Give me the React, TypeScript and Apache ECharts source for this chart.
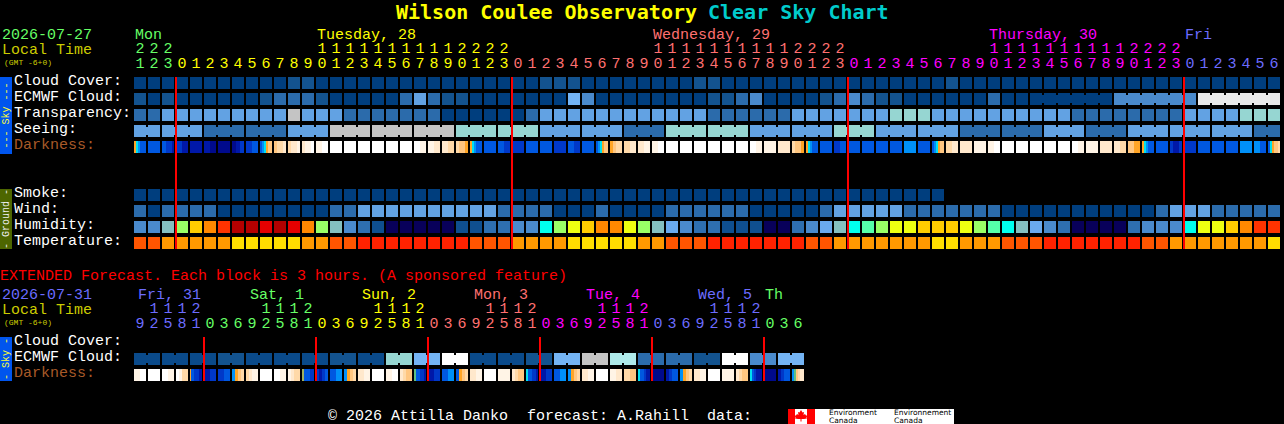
import React, { useEffect, useRef } from "react";
import * as echarts from "echarts";

// ---- palettes (level -> colour)
const skyColors = ["#003e7e", "#13538f", "#2b6bab", "#4a8acc", "#62a2e3", "#74b4f4", "#96d6d2", "#aeeaea", "#c4c4c4", "#e9e9e9", "#ffffff", "#0a4a8a"];
const humidityColors = ["#08005a", "#0f4f8f", "#2e6fb0", "#4a8acc", "#6aaaee", "#84c0c0", "#00ffee", "#55ffaa", "#99ff66", "#eeff11", "#ffcc00", "#ff8800", "#ff3300", "#e60000", "#b30000"];
const tempColors = ["#ff2200", "#ff5500", "#ff9900", "#ffdd00"];
const darkColors = ["#ffffff", "#fff4e6", "#ffe8cc", "#ffd9a8", "#ffc680", "#ffa526", "#00e0f0", "#0090f8", "#0058e0", "#0038c8", "#0018a8", "#000a8c", "#a0b060", "#60c080"];

// ---- main forecast, 82 hourly columns
const cloudCover = [0,0,0,0,0,0,0,0,0,0,0,1,1,0,0,0,0,0,0,0,0,0,0,0,0,0,0,0,0,1,1,1,0,0,0,0,0,0,0,0,1,1,0,0,0,0,0,0,0,0,0,0,0,0,0,0,0,0,1,0,0,0,0,0,0,0,0,0,0,0,0,0,0,0,0,0,0,0,0,0,0,0];
const ecmwfCloud = [1,0,1,0,0,0,0,0,0,1,2,2,2,1,0,0,0,0,0,2,4,2,1,1,0,0,0,0,0,0,0,5,3,0,0,0,0,0,0,0,0,1,1,2,3,0,0,0,0,1,2,3,2,1,1,0,0,0,0,0,0,2,0,0,0,0,0,0,0,0,3,3,3,3,3,3,9,9,9,9,9,9];
const transparency = [2,2,4,4,4,4,4,4,4,4,4,8,4,4,4,2,2,2,2,2,2,2,0,0,0,0,0,0,2,4,4,4,4,4,4,4,4,4,4,4,4,2,2,2,2,2,2,4,4,4,4,4,4,4,6,6,6,4,4,4,4,4,4,4,4,4,4,2,2,2,2,2,2,2,2,4,4,4,4,6,6,6];
const seeing = [4,4,4,4,4,2,2,2,2,2,2,4,4,4,8,8,8,8,8,8,8,8,8,6,6,6,6,6,6,4,4,4,4,4,4,2,2,2,6,6,6,6,6,6,4,4,4,4,4,4,6,6,6,4,4,4,4,4,4,2,2,2,2,2,2,4,4,4,2,2,2,4,4,4,4,4,4,4,4,4,2,2];
const darkness = [
  [5,6,7,8,8,8],[8],[8,8,9,9,9,10],[9,10],[10],[10,11],[11],[11,10,9],[9,8],[8,7,6,5,4,4],[4,3,3,2],[3,2,2,1],[2,1,1,0],[1,0],
  [0],[0],[0],[0],[0],[0],[0,1],[1,2],[2,3],[3,4,4,5],[5,6,7,8,8,8],[8],[8,9],[9],[8],[8],[9],[8,9],[8],[8,7,6,5,4,4],[5,4,3,3],[3,2],[2,1],[1,0],
  [0],[0],[0],[0],[0],[0],[0,1],[1],[2],[3,4,4,5],[5,6,7,8,8,8],[8],[9,8],[8],
  [8],[8],[8],[7],[8],[8,7,6,5,4,4],[3,2],[2],[1],[1,0],[0],[0],[0],[0],[0],[0,1],[1],[2],[2,3],[4,5],[5,6,7,8,8,8],[8],[9,10,10,9],[9],[8],[8],[8],[7],[7,8],[8,6,5,4,4,3],
];
const smoke = [0,0,0,0,0,0,0,0,0,0,0,0,0,0,0,0,0,0,0,0,0,0,0,0,0,0,0,0,0,0,0,0,0,0,0,0,0,0,0,0,0,0,0,0,0,0,0,0,0,0,0,0,0,0,0,0,0,0];
const wind = [2,0,2,2,2,2,0,0,0,0,0,0,0,0,2,2,4,4,4,4,4,4,4,4,4,4,2,2,2,2,0,0,0,2,0,0,0,0,2,2,2,2,2,2,0,0,0,0,0,2,4,4,4,4,4,2,2,2,2,2,2,2,0,0,0,0,0,0,0,0,0,0,0,2,4,4,4,2,2,2,2,2];
const humidity = [3,3,5,8,10,11,12,14,14,13,14,13,11,8,5,3,2,1,0,0,0,0,0,1,1,2,2,3,3,6,8,9,10,11,11,9,8,5,4,3,2,2,1,1,1,0,0,2,3,4,5,6,7,8,9,9,10,10,10,9,8,7,6,5,4,3,2,0,0,0,0,2,3,3,3,6,9,9,10,11,12,12];
const temperature = [1,1,2,2,2,2,2,3,3,3,3,3,2,2,1,1,0,0,0,0,0,0,0,0,1,1,1,2,2,2,2,3,3,3,3,3,2,2,1,1,1,0,0,0,0,0,0,0,1,1,2,2,2,2,2,2,2,3,3,2,2,2,1,1,1,0,0,0,0,0,0,0,1,1,2,2,2,2,2,2,2,3];

// ---- main axis ticks
const hours = [21,22,23,0,1,2,3,4,5,6,7,8,9,10,11,12,13,14,15,16,17,18,19,20,21,22,23,0,1,2,3,4,5,6,7,8,9,10,11,12,13,14,15,16,17,18,19,20,21,22,23,0,1,2,3,4,5,6,7,8,9,10,11,12,13,14,15,16,17,18,19,20,21,22,23,0,1,2,3,4,5,6];
const hourGroups = [3, 24, 24, 24, 7];
const dayColors = ["#66ff66", "#ffff00", "#ff7070", "#ff00ff", "#6c6cff"];
const dayLabels = ["Mon", "Tuesday, 28", "Wednesday, 29", "Thursday, 30", "Fri"];
const dayColumns = [0, 13, 37, 61, 75];
const midnights = [3, 27, 51, 75];
const skyRows = ["Cloud Cover:", "ECMWF Cloud:", "Transparency:", "Seeing:", "Darkness:"];
const groundRows = ["Smoke:", "Wind:", "Humidity:", "Temperature:"];

// ---- extended forecast, 48 three-hour columns
const extCloud = [11,11,11,11,11,11,1,1,11,11,11,11,11,11,1,1,11,11,6,6,5,5,10,10,11,11,11,11,1,1,5,5,8,8,7,7,2,2,2,2,1,1,10,10,3,3,5,5];
const extDarkness = [
  [1,0],[0],[0,1],[0,1,3,3],[5,8,8,8,9,9,9,9,9,10,10,10],[10,9],[9,8],[7,5,4,3],[3,2,1,1],[0],[0,1],[1,2,3,3],
  [12,8,8,8,9,9],[9,10,9,8],[8,7],[7,5,4,3],[2,1],[0],[1,0],[2,3,4,4],[13,8,8,9,9,10],[10,9],[8,7],[8,5,4,3],
  [2,1],[0],[1],[2,3,4,4],[6,8,8,9,9,10],[10,9],[8,7],[7,5,4,3],[2,1],[0],[1,2],[3,4],[6,8,8,9,10,10],[11],[10,9,8,8],[7,5,4,3],
  [2,1],[0],[1],[2,3,4,4],[6,8,9,10,10,10],[11],[10,9,8,8],[7,13,4,3,2,2],
];
const extHours = [9,12,15,18,21,0,3,6,9,12,15,18,21,0,3,6,9,12,15,18,21,0,3,6,9,12,15,18,21,0,3,6,9,12,15,18,21,0,3,6,9,12,15,18,21,0,3,6];
const extHourGroups = [5, 8, 8, 8, 8, 8, 3];
const extDayColors = ["#6c6cff", "#66ff66", "#ffff00", "#ff7070", "#ff00ff", "#6c6cff", "#66ff66"];
const extDayLabels = ["Fri, 31", "Sat, 1", "Sun, 2", "Mon, 3", "Tue, 4", "Wed, 5", "Th"];
const extDayColumns = [0, 8, 16, 24, 32, 40, 45];
const extMidnights = [5, 13, 21, 29, 37, 45];
const extRows = ["Cloud Cover:", "ECMWF Cloud:", "Darkness:"];

const MONO = '"Liberation Mono", monospace';
const TITLE_MONO = '"DejaVu Sans Mono", monospace';
const FONT = `15px ${MONO}`;
const LOGO_FONT = `7.5px "DejaVu Sans"`;

function colorsOf(groups: number[], palette: string[]) {
  const out: string[] = [];
  groups.forEach((n, g) => { for (let i = 0; i < n; i++) out.push(palette[g]); });
  return out;
}

function cellSeries(
  grid: number, row: number, values: number[], palette: string[],
  joined: (i: number) => boolean = () => false,
) {
  return {
    type: "custom", xAxisIndex: grid * 2, yAxisIndex: grid, silent: true,
    data: values.map((v, i) => [i, row, v]),
    renderItem: (_p: any, api: any) => {
      const i = api.value(0);
      const [cx, cy] = api.coord([i, row]);
      const fill = palette[api.value(2)];
      const children: any[] = [{ type: "rect", shape: { x: cx - 6, y: cy - 6, width: 12, height: 12 }, style: { fill } }];
      if (joined(i) && values[i + 1] === values[i]) {
        children.push({ type: "rect", shape: { x: cx + 6, y: cy - 4, width: 2, height: 8 }, style: { fill } });
      }
      return { type: "group", children };
    },
  };
}

function stripeSeries(grid: number, row: number, cells: number[][]) {
  return {
    type: "custom", xAxisIndex: grid * 2, yAxisIndex: grid, silent: true,
    data: cells.map((_c, i) => [i, row]),
    renderItem: (_p: any, api: any) => {
      const i = api.value(0);
      const [cx, cy] = api.coord([i, row]);
      const st = cells[i];
      const w = 12 / st.length;
      return {
        type: "group",
        children: st.map((lvl, k) => ({
          type: "rect",
          shape: { x: cx - 6 + Math.round(k * w), y: cy - 6, width: Math.round((k + 1) * w) - Math.round(k * w), height: 12 },
          style: { fill: darkColors[lvl] },
        })),
      };
    },
  };
}

function redLines(grid: number, cols: number[]) {
  return {
    type: "custom", xAxisIndex: grid * 2, yAxisIndex: grid, silent: true, z: 10,
    data: cols.map((c) => [c, 1]),
    renderItem: (_p: any, api: any) => {
      const c = api.value(0);
      const band = api.size([1, 0])[0];
      const top = api.coord([c, 1]);
      const bottom = api.coord([c, 0]);
      return { type: "rect", shape: { x: top[0] - band / 2, y: top[1], width: 2, height: bottom[1] - top[1] }, style: { fill: "#ff0000" } };
    },
  };
}

function hourAxes(grid: number, hrs: number[], colors: string[]) {
  const base = {
    type: "category", gridIndex: grid, position: "top",
    axisLine: { show: false }, axisTick: { show: false }, splitLine: { show: false },
  };
  const label = { interval: 0, hideOverlap: false, fontFamily: MONO, fontSize: 15, color: (_v: any, i: number) => colors[i], margin: 3 };
  return [
    { ...base, data: hrs.map((h) => String(h % 10)), axisLabel: label },
    { ...base, offset: 15, data: hrs.map((h) => (h >= 10 ? String(Math.floor(h / 10)) : "")), axisLabel: label },
  ];
}

function blankXAxes(grid: number, n: number) {
  const base = { type: "category", gridIndex: grid, data: Array.from({ length: n }, (_, i) => String(i)), axisLine: { show: false }, axisTick: { show: false }, axisLabel: { show: false }, splitLine: { show: false } };
  return [base, { ...base }];
}

function rowAxis(grid: number, rows: string[]) {
  return {
    type: "category", gridIndex: grid, inverse: true, data: rows,
    axisLine: { show: false }, axisTick: { show: false }, splitLine: { show: false },
    axisLabel: {
      interval: 0, align: "left", verticalAlign: "bottom", lineHeight: 4, margin: 119, fontFamily: MONO, fontSize: 15,
      color: (v: string) => (v === "Darkness:" ? "#a85a28" : "#ffffff"),
    },
  };
}

function txt(text: string, x: number, y: number, fill: string, font = FONT) {
  return { type: "text", x, y, silent: true, style: { text, fill, font, textVerticalAlign: "middle" } };
}

function sideBar(y: number, h: number, fill: string, label: string, color: string) {
  return [
    { type: "rect", silent: true, shape: { x: 0, y, width: 12, height: h }, style: { fill } },
    { type: "text", silent: true, x: 6, y: y + h / 2, rotation: Math.PI / 2, style: { text: label, fill: color, font: `10px ${MONO}`, textAlign: "center", textVerticalAlign: "middle" } },
  ];
}

const leaf: number[][] = [[801,410],[802.5,412.5],[804,412],[803.5,415],[805,414],[806,415.5],[807.5,415.5],[806.5,417.5],[807,418.5],[804,419],[801.5,419],[801.5,421.5],[800.5,421.5],[800.5,419],[798,419],[795,418.5],[795.5,417.5],[794.5,415.5],[796,415.5],[797,414],[798.5,415],[798,412],[799.5,412.5]];

function buildOption(): any {
  const hourColors = colorsOf(hourGroups, dayColors);
  const extHourColors = colorsOf(extHourGroups, extDayColors);
  const seeingJoin = (i: number) => (i + 1) % 3 !== 2;
  const ecmwfJoin = (i: number) => i >= 64 && (i + 1) % 6 !== 4;
  const pairJoin = (i: number) => i % 2 === 0;
  const graphicEls: any[] = [
    txt("Wilson Coulee Observatory", 396, 12, "#ffff00", `bold 20px ${TITLE_MONO}`),
    txt("Clear Sky Chart", 708, 12, "#00cccc", `bold 20px ${TITLE_MONO}`),
    txt("2026-07-27", 2, 35, "#66ff66"),
    txt("Local Time", 2, 50, "#cccc00"),
    txt("(GMT -6+0)", 4, 62, "#cccc00", `8px ${MONO}`),
    txt("EXTENDED Forecast. Each block is 3 hours. (A sponsored feature)", 0, 276, "#ff0000"),
    txt("2026-07-31", 2, 295, "#6c6cff"),
    txt("Local Time", 2, 310, "#cccc00"),
    txt("(GMT -6+0)", 4, 322, "#cccc00", `8px ${MONO}`),
    txt("\u00a9 2026 Attilla Danko", 328, 416, "#ffffff"),
    txt("forecast: A.Rahill", 527, 416, "#ffffff"),
    txt("data:", 707, 416, "#ffffff"),
    ...sideBar(77, 77, "#0055ee", "--- Sky ---", "#ffff33"),
    ...sideBar(189, 60, "#4d6600", "- Ground -", "#eeeeee"),
    ...sideBar(337, 44, "#0055ee", "- Sky -", "#ffff33"),
    { type: "rect", silent: true, shape: { x: 788, y: 409, width: 166, height: 15 }, style: { fill: "#ffffff" } },
    { type: "rect", silent: true, shape: { x: 788, y: 409, width: 7, height: 15 }, style: { fill: "#ff0000" } },
    { type: "rect", silent: true, shape: { x: 807, y: 409, width: 8, height: 15 }, style: { fill: "#ff0000" } },
    { type: "polygon", silent: true, shape: { points: leaf }, style: { fill: "#ff0000" } },
    txt("Environment", 829, 412.5, "#000000", LOGO_FONT),
    txt("Canada", 829, 420, "#000000", LOGO_FONT),
    txt("Environnement", 894, 412.5, "#000000", LOGO_FONT),
    txt("Canada", 894, 420, "#000000", LOGO_FONT),
  ];
  dayLabels.forEach((d, i) => graphicEls.push(txt(d, 135 + 14 * dayColumns[i], 35, dayColors[i])));
  extDayLabels.forEach((d, i) => graphicEls.push(txt(d, (i === 6 ? 135 : 138) + 14 * extDayColumns[i], 295, extDayColors[i])));

  return {
    animation: false,
    backgroundColor: "#000000",
    grid: [
      { left: 133, top: 75, width: 1148, height: 80 },
      { left: 133, top: 187, width: 1148, height: 64 },
      { left: 133, top: 335, width: 672, height: 48 },
      { left: 133, top: 77, width: 1148, height: 172 },
      { left: 133, top: 337, width: 672, height: 44 },
    ],
    xAxis: [
      ...hourAxes(0, hours, hourColors),
      ...blankXAxes(1, 82),
      ...hourAxes(2, extHours, extHourColors),
      ...blankXAxes(3, 82),
      ...blankXAxes(4, 48),
    ],
    yAxis: [
      rowAxis(0, skyRows),
      rowAxis(1, groundRows),
      rowAxis(2, extRows),
      { type: "value", gridIndex: 3, min: 0, max: 1, show: false },
      { type: "value", gridIndex: 4, min: 0, max: 1, show: false },
    ],
    graphic: graphicEls,
    series: [
      cellSeries(0, 0, cloudCover, skyColors),
      cellSeries(0, 1, ecmwfCloud, skyColors, ecmwfJoin),
      cellSeries(0, 2, transparency, skyColors),
      cellSeries(0, 3, seeing, skyColors, seeingJoin),
      stripeSeries(0, 4, darkness),
      cellSeries(1, 0, smoke, skyColors),
      cellSeries(1, 1, wind, skyColors),
      cellSeries(1, 2, humidity, humidityColors),
      cellSeries(1, 3, temperature, tempColors),
      cellSeries(2, 1, extCloud, skyColors, pairJoin),
      stripeSeries(2, 2, extDarkness),
      redLines(3, midnights),
      redLines(4, extMidnights),
    ],
  };
}

export default function App() {
  const ref = useRef<HTMLDivElement>(null);
  useEffect(() => {
    document.body.style.margin = "0";
    document.body.style.background = "#000";
    const chart = echarts.init(ref.current!, undefined, { renderer: "svg" });
    chart.setOption(buildOption());
    return () => chart.dispose();
  }, []);
  return <div ref={ref} style={{ width: 1284, height: 424 }} />;
}
